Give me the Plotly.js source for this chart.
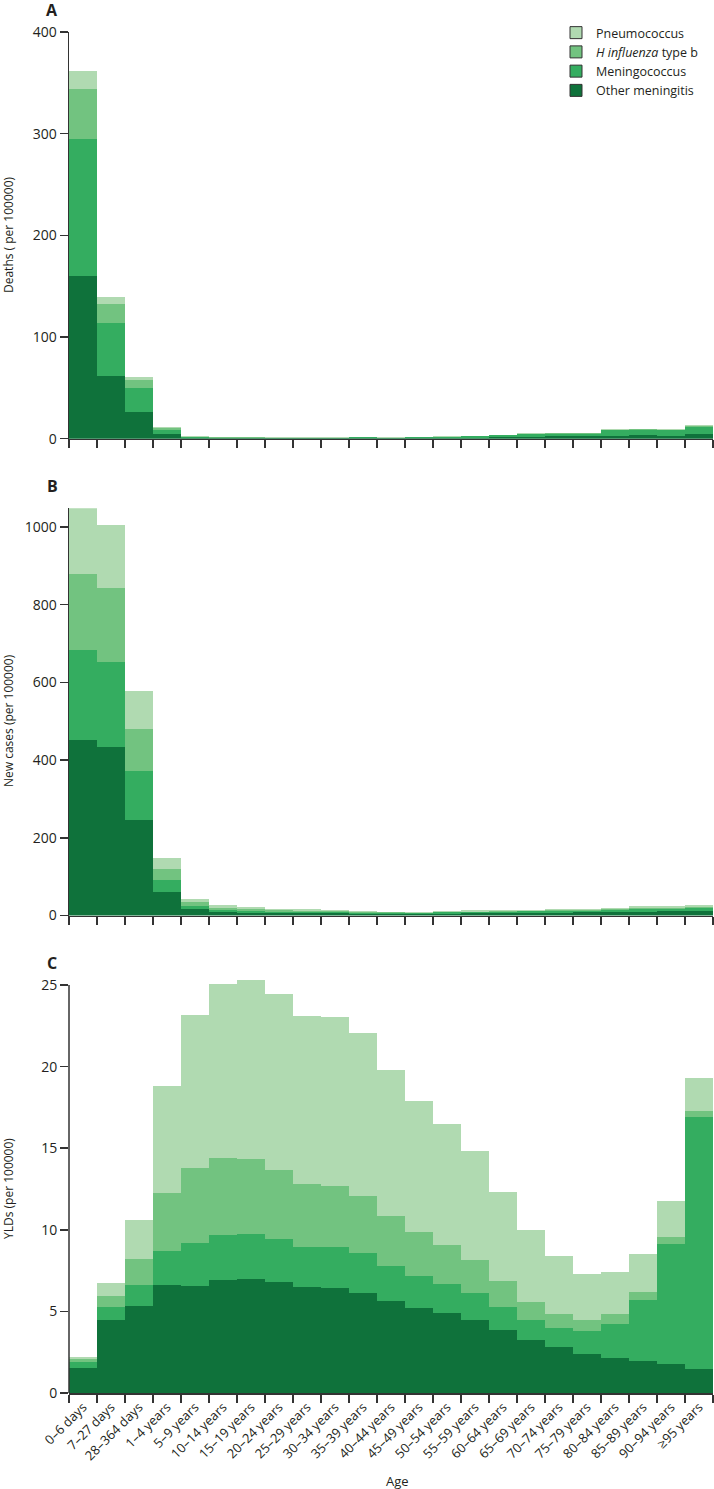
<!DOCTYPE html>
<html>
<head>
<meta charset="utf-8">
<script src="https://cdn.plot.ly/plotly-3.0.1.min.js"></script>
<style>
  html, body { margin: 0; padding: 0; background: #fff; }
  #chart { width: 714px; height: 1489px; }
</style>
</head>
<body>
<div id="chart"></div>
<script>
// age groups on the x axis
var ages = ["0–6 days", "7–27 days", "28–364 days", "1–4 years", "5–9 years", "10–14 years",
  "15–19 years", "20–24 years", "25–29 years", "30–34 years", "35–39 years", "40–44 years",
  "45–49 years", "50–54 years", "55–59 years", "60–64 years", "65–69 years", "70–74 years",
  "75–79 years", "80–84 years", "85–89 years", "90–94 years", "≥95 years"];

// A: deaths per 100000
var deathsOther = [160, 62, 26.6, 5, 0.8, 0.5, 0.5, 0.5, 0.5, 0.5, 0.6, 0.5, 0.6, 0.9, 1.1, 1.5, 2, 2.3, 2.3, 3, 3.2, 3.1, 4.3];
var deathsMening = [134.5, 52, 23.3, 4, 0.9, 0.5, 0.5, 0.5, 0.4, 0.4, 0.6, 0.5, 0.6, 0.9, 1.2, 1.7, 2.7, 2.7, 2.7, 5.1, 5.5, 5.3, 7.7];
var deathsHib = [49.5, 18, 8.1, 1.3, 0.3, 0.2, 0.2, 0.1, 0.1, 0.1, 0.2, 0.1, 0.2, 0.2, 0.3, 0.3, 0.4, 0.3, 0.3, 0.5, 0.5, 0.5, 0.5];
var deathsPneumo = [18, 7.6, 3, 1.2, 0.3, 0.2, 0.2, 0.2, 0.2, 0.2, 0.2, 0.2, 0.2, 0.3, 0.4, 0.5, 0.5, 0.3, 0.3, 0.6, 0.6, 0.6, 0.6];

// B: new cases per 100000
var casesOther = [452, 433, 246, 60.5, 17, 9, 7.5, 6.5, 6, 5.5, 5, 4.5, 4.3, 5, 5.8, 6.1, 6.8, 7.6, 8, 9, 10, 10.7, 11.2];
var casesMening = [231, 219.5, 126, 31, 8.5, 5, 4, 3.5, 3, 2.5, 2.3, 2.3, 2.3, 2.8, 3.3, 3.5, 4, 4.5, 4.8, 5.6, 6.5, 7, 7.9];
var casesHib = [196, 190.5, 109, 27.5, 8, 6, 4.5, 3.5, 3, 2.5, 1.6, 1.1, 1, 1.1, 1.2, 1.3, 1.5, 1.6, 1.6, 1.8, 2, 2.1, 2.2];
var casesPneumo = [169, 161, 97.6, 29, 8.5, 7, 6, 4, 4, 3.5, 2.6, 2.1, 1.9, 2.3, 2.6, 2.8, 3.1, 3.5, 3.6, 4.2, 4.7, 5.1, 5.3];

// C: YLDs per 100000
var yldOther = [1.51, 4.49, 5.33, 6.61, 6.55, 6.9, 6.98, 6.78, 6.47, 6.41, 6.14, 5.63, 5.22, 4.92, 4.47, 3.86, 3.25, 2.84, 2.39, 2.14, 1.96, 1.78, 1.49];
var yldMening = [0.37, 0.78, 1.28, 2.09, 2.64, 2.78, 2.76, 2.65, 2.47, 2.51, 2.41, 2.15, 1.94, 1.77, 1.67, 1.42, 1.24, 1.14, 1.41, 2.1, 3.75, 7.36, 15.41];
var yldHib = [0.18, 0.69, 1.61, 3.57, 4.59, 4.75, 4.59, 4.23, 3.88, 3.76, 3.55, 3.08, 2.68, 2.35, 2.0, 1.56, 1.1, 0.88, 0.65, 0.6, 0.47, 0.41, 0.37];
var yldPneumo = [0.16, 0.76, 2.39, 6.53, 9.39, 10.63, 11.0, 10.77, 10.27, 10.35, 9.99, 8.96, 8.04, 7.47, 6.68, 5.47, 4.37, 3.53, 2.84, 2.55, 2.33, 2.21, 2.02];

var names = ["Other meningitis", "Meningococcus", "<i>H influenza</i> type b", "Pneumococcus"];
var colors = ["#0f723b", "#34ad60", "#72c380", "#b0dab1"];

var W = 714, H = 1489, ML = 69, MR = 1, MT = 32, MB = 96;
function px(x) { return (x - ML) / (W - ML - MR); }
function py(y) { return (H - MB - y) / (H - MT - MB); }

var font = "Open Sans, sans-serif";
var ink = "#231f20";

var data = [];
function addPanel(series, xa, ya) {
  series.forEach(function (vals, i) {
    data.push({
      type: "bar", x: ages, y: vals, xaxis: xa, yaxis: ya,
      name: names[i], showlegend: false,
      marker: { color: colors[i], line: { width: 0 } },
      hoverinfo: "skip"
    });
  });
}
addPanel([deathsOther, deathsMening, deathsHib, deathsPneumo], "x", "y");
addPanel([casesOther, casesMening, casesHib, casesPneumo], "x2", "y2");
addPanel([yldOther, yldMening, yldHib, yldPneumo], "x3", "y3");

// legend-only entries on a tiny hidden axis pair, lightest first
for (var i = 3; i >= 0; i--) {
  data.push({
    type: "bar", x: [ages[0]], y: [0], xaxis: "x4", yaxis: "y4", name: names[i],
    marker: { color: colors[i], line: { color: "#333", width: 1 } }
  });
}

function xAxis(anchor, labels) {
  return {
    anchor: anchor, domain: [0, 1], type: "category",
    categoryorder: "array", categoryarray: ages,
    range: [-0.5, ages.length - 0.5], autorange: false,
    showline: true, linecolor: "#333", linewidth: 1.5,
    ticks: "outside", tickson: "boundaries", ticklen: 8, tickwidth: 1.5, tickcolor: "#333",
    showgrid: false, zeroline: false, fixedrange: true,
    showticklabels: labels, tickangle: -45,
    tickfont: { family: font, size: 13, color: ink }
  };
}
function yAxis(anchor, domain, range, dtick, line) {
  return {
    anchor: anchor, domain: domain, range: range, dtick: dtick,
    showline: line, linecolor: "#333", linewidth: 1.5,
    ticks: "outside", ticklen: 8, tickwidth: 1.5, tickcolor: "#333",
    showgrid: false, zeroline: false, fixedrange: true,
    tickfont: { family: font, size: 14, color: ink }
  };
}

function label(text, x, y, opts) {
  var a = {
    text: text, xref: "paper", yref: "paper", x: px(x), y: py(y),
    showarrow: false, xanchor: "center", yanchor: "middle",
    font: { family: font, size: 12, color: ink }
  };
  for (var k in opts) a[k] = opts[k];
  return a;
}

var layout = {
  width: W, height: H,
  margin: { l: ML, r: MR, t: MT, b: MB, autoexpand: false },
  paper_bgcolor: "#fff", plot_bgcolor: "rgba(0,0,0,0)",
  barmode: "stack", bargap: 0,
  showlegend: true,
  legend: {
    x: px(556), y: py(18), xanchor: "left", yanchor: "top",
    bgcolor: "rgba(0,0,0,0)", tracegroupgap: 0, traceorder: "normal",
    font: { family: font, size: 12.5, color: ink }
  },
  xaxis: xAxis("y", false),
  xaxis2: xAxis("y2", false),
  xaxis3: xAxis("y3", true),
  xaxis4: { anchor: "y4", domain: [0.99, 1], visible: false, fixedrange: true },
  yaxis: yAxis("x", [py(438.7), 1], [0, 400], 100, true),
  yaxis2: yAxis("x2", [py(915.5), py(508.3)], [0, 1048], 200, true),
  yaxis3: yAxis("x3", [0, py(978.5)], [0, 25.4], 5, false),
  yaxis4: { anchor: "x4", domain: [0.99, 1], range: [10, 11], visible: false, fixedrange: true },
  shapes: [{
    type: "line", xref: "paper", yref: "y3", x0: 0, x1: 0, y0: 0, y1: 25,
    line: { color: "#333", width: 1.5 }
  }],
  annotations: [
    label("<b>A</b>", 52, 10, { font: { family: font, size: 16, color: ink } }),
    label("<b>B</b>", 52, 486, { font: { family: font, size: 16, color: ink } }),
    label("<b>C</b>", 52, 963, { font: { family: font, size: 16, color: ink } }),
    label("Deaths ( per 100000)", 8, 235, { textangle: -90 }),
    label("New cases (per 100000)", 8, 721, { textangle: -90 }),
    label("YLDs (per 100000)", 8, 1189, { textangle: -90 }),
    label("Age", 397, 1481, { font: { family: font, size: 13, color: ink } })
  ]
};

Plotly.newPlot("chart", data, layout, { displayModeBar: false, staticPlot: true });
</script>
</body>
</html>
